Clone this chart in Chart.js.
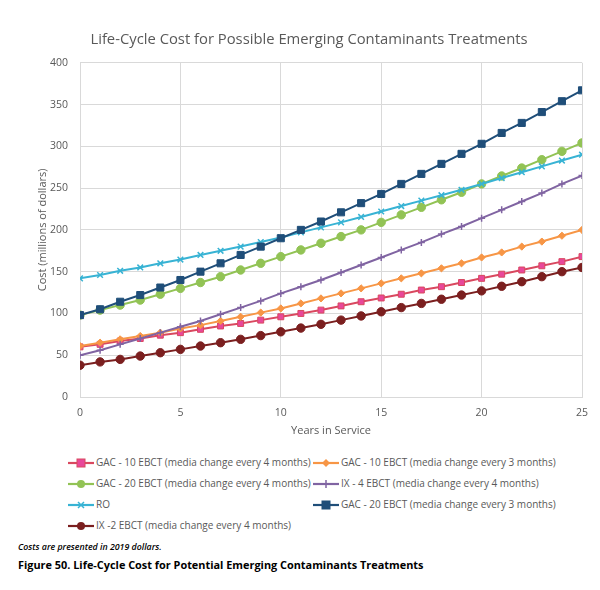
<!DOCTYPE html>
<html>
<head>
<meta charset="utf-8">
<script src="https://cdn.jsdelivr.net/npm/chart.js@4.4.0/dist/chart.umd.min.js"></script>
<style>
  html,body{margin:0;padding:0;background:#fff;}
  body{width:600px;height:590px;position:relative;font-family:"Open Sans","Liberation Sans",sans-serif;overflow:hidden;}
  #wrap{position:absolute;left:0;top:0;width:600px;height:439px;}
  #legend{position:absolute;left:0;top:452px;width:600px;font-size:10px;color:#595959;}
  .li{position:absolute;height:20px;line-height:20px;white-space:nowrap;}
  .li svg{vertical-align:middle;margin-right:2px;}
  #note{position:absolute;left:18px;top:541px;font-size:8.8px;font-style:italic;font-weight:600;color:#000;}
  #fig{position:absolute;left:18px;top:557px;font-size:10.9px;font-weight:bold;color:#000;}
</style>
</head>
<body>
<div id="wrap"><canvas id="c" width="600" height="439"></canvas></div>
<div id="legend"></div>
<div id="note">Costs are presented in 2019 dollars.</div>
<div id="fig">Figure 50. Life-Cycle Cost for Potential Emerging Contaminants Treatments</div>
<script>
const years = [0,1,2,3,4,5,6,7,8,9,10,11,12,13,14,15,16,17,18,19,20,21,22,23,24,25];
const seriesNames = [
  "GAC - 10 EBCT (media change every 4 months)",
  "GAC - 10 EBCT (media change every 3 months)",
  "GAC - 20 EBCT (media change every 4 months)",
  "IX - 4 EBCT (media change every 4 months)",
  "RO",
  "GAC - 20 EBCT (media change every 3 months)",
  "IX -2 EBCT (media change every 4 months)"
];
const gac10_4 = [60,63,67,70,74,77,81,85,88,92,96,100,104,109,114,118.5,123,128,132,137,142,147,152,157,162,168];
const gac10_3 = [61,65,69,73,77,82,86,91,96,101,106,112,118,124,130,136,142,148,154,160,167,173,180,186,193,200];
const gac20_4 = [98,104,110,116,123,130,137,144,152,160,168,176,184,192,200,209,218,227,236,245,255,264.5,274,284,294,304];
const ix4 = [50,56,63,70,77,84,91,99,107,115,124,132,140,149,158,167,176,185,195,204,214,224,234,244,255,265];
const ro = [142,146,151,155,160,164.5,170,175,180,185.5,191,197,203,209,215.5,222,228.5,235,241.5,248,255,262,269,276,283,290];
const gac20_3 = [98,105,114,122,131,140,150,160,170,180,190,200,210,221,232,243,255,267,279,291,303,316,328,341,354,367];
const ix2 = [38,42,45,49,53,57,61,65,69,73.5,78,82.5,87,92,97,102,107,112,117,122,127,132.5,138,144,150,155];
const yTicks = [0,50,100,150,200,250,300,350,400];
const xTicks = [0,5,10,15,20,25];

const styles = [
  {line:"#d9485f", fill:"#e8489a", shape:"rect", r:4.2},
  {line:"#f79646", fill:"#f79646", shape:"rectRot", r:3.6},
  {line:"#92c355", fill:"#92c355", shape:"circle", r:4.2},
  {line:"#8064a2", fill:"#8064a2", shape:"cross", r:3.5},
  {line:"#38b3d4", fill:"#38b3d4", shape:"crossRot", r:4},
  {line:"#1f4e79", fill:"#1f4e79", shape:"rect", r:5},
  {line:"#7b1f1f", fill:"#7b1f1f", shape:"circle", r:4.2}
];
const allData = [gac10_4, gac10_3, gac20_4, ix4, ro, gac20_3, ix2];
const datasets = allData.map((arr,i)=>({
  label: seriesNames[i],
  data: arr.map((v,k)=>({x:years[k], y:v})),
  borderColor: styles[i].line,
  backgroundColor: styles[i].fill,
  pointBackgroundColor: styles[i].fill,
  pointBorderColor: (styles[i].shape==="cross"||styles[i].shape==="crossRot") ? styles[i].fill : styles[i].line,
  pointBorderWidth: (styles[i].shape==="cross"||styles[i].shape==="crossRot") ? 1.5 : 1,
  pointStyle: styles[i].shape,
  pointRadius: styles[i].r,
  borderWidth: 2,
  tension: 0,
  order: 7-i
}));

new Chart(document.getElementById('c'), {
  type: 'line',
  data: {datasets},
  options: {
    responsive:false,
    animation:false,
    layout:{padding:{left:36, right:18, top:31, bottom:0}},
    plugins:{
      legend:{display:false},
      tooltip:{enabled:false},
      title:{display:true, text:"Life-Cycle Cost for Possible Emerging Contaminants Treatments",
        color:"#595959", font:{family:"Open Sans", size:14.8, weight:"normal"}, padding:{top:0,bottom:14}}
    },
    scales:{
      x:{type:'linear', min:0, max:25,
        afterBuildTicks:(a)=>{a.ticks = xTicks.map(v=>({value:v}));},
        ticks:{color:"#595959", font:{family:"Open Sans", size:10.5}, padding:10},
        grid:{color:"#d9d9d9", drawTicks:false},
        border:{color:"#d9d9d9"},
        title:{display:true, text:"Years in Service", color:"#595959", font:{family:"Open Sans", size:11}, padding:{top:5,bottom:2}},
        afterFit:(s)=>{s.height = 42;}
      },
      y:{min:0, max:400,
        afterBuildTicks:(a)=>{a.ticks = yTicks.map(v=>({value:v}));},
        ticks:{color:"#595959", font:{family:"Open Sans", size:10.5}, padding:12},
        grid:{color:"#d9d9d9", drawTicks:false},
        border:{color:"#d9d9d9"},
        title:{display:true, text:"Cost (millions of dollars)", color:"#595959", font:{family:"Open Sans", size:11}, padding:{top:0,bottom:4}},
        afterFit:(s)=>{s.width = 44;}
      }
    }
  }
});

// HTML legend built from the dataset definitions
const pos = [[68,452],[313,452],[68,473],[313,473],[68,494],[313,494],[68,515]];
const lg = document.getElementById('legend');
function markerSvg(st){
  const c=st.fill, l=st.line;
  let m='';
  if(st.shape==='rect') m=`<rect x="9" y="3" width="8" height="8" fill="${c}" stroke="${l}" stroke-width="1"/>`;
  else if(st.shape==='rectRot') m=`<polygon points="13,3 17,7 13,11 9,7" fill="${c}"/>`;
  else if(st.shape==='circle') m=`<circle cx="13" cy="7" r="4" fill="${c}"/>`;
  else if(st.shape==='cross') m=`<path d="M13 3 V11 M9 7 H17" stroke="${c}" stroke-width="1.5"/>`;
  else m=`<path d="M10 4 L16 10 M16 4 L10 10" stroke="${c}" stroke-width="1.5"/>`;
  return `<svg width="26" height="14"><line x1="0" y1="7" x2="26" y2="7" stroke="${l}" stroke-width="2.2"/>${m}</svg>`;
}
seriesNames.forEach((n,i)=>{
  const d=document.createElement('div');
  d.className='li';
  d.style.left=pos[i][0]+'px'; d.style.top=(pos[i][1]-452)+'px';
  d.innerHTML=markerSvg(styles[i])+'<span>'+n+'</span>';
  lg.appendChild(d);
});
</script>
</body>
</html>
